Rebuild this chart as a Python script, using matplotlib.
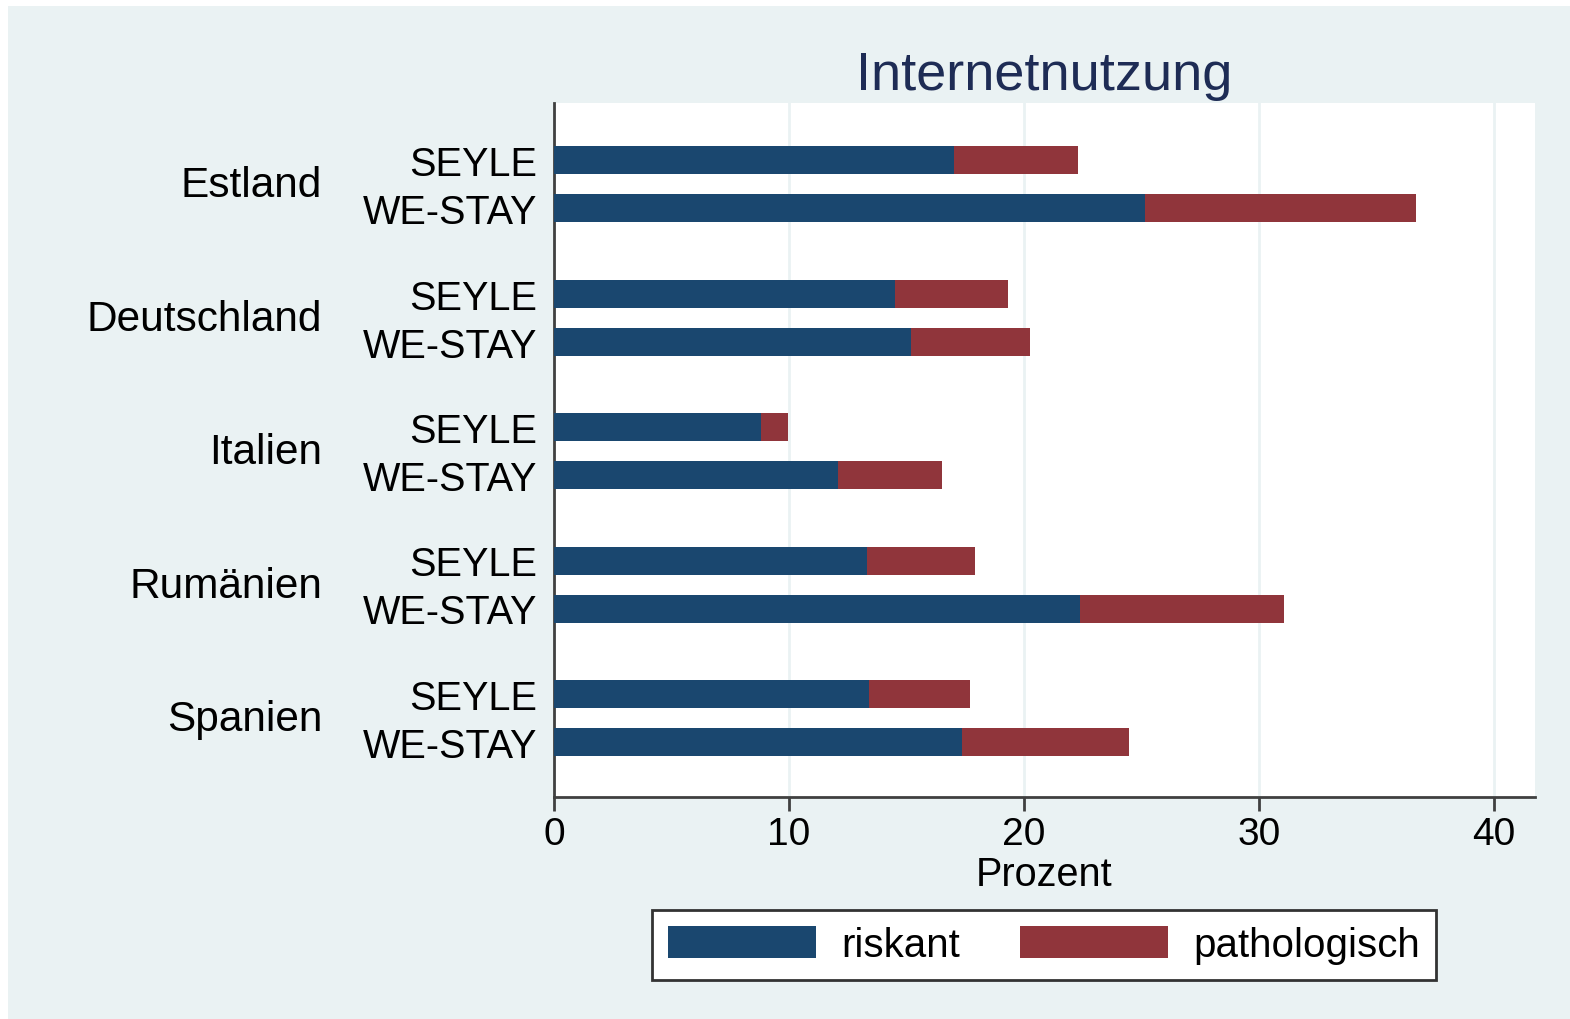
import matplotlib.pyplot as plt
import numpy as np
from matplotlib.patches import Rectangle

# values (Prozent)
countries = ["Estland", "Deutschland", "Italien", "Rumänien", "Spanien"]
studies = ["SEYLE", "WE-STAY"]
riskant_seyle = [17.0, 14.5, 8.8, 13.3, 13.4]
patho_seyle = [5.3, 4.8, 1.15, 4.6, 4.3]
riskant_westay = [25.15, 15.2, 12.1, 22.4, 17.35]
patho_westay = [11.55, 5.05, 4.4, 8.65, 7.1]
xticks = [0, 10, 20, 30, 40]

NAVY = "#1a476f"
MAROON = "#90353b"
BG = "#eaf2f3"

plt.rcParams["font.family"] = ["Liberation Sans", "DejaVu Sans"]

fig = plt.figure(figsize=(15.7, 10.2), dpi=100, facecolor="white")
fig.patches.append(Rectangle((8 / 1570, 0.0), 1 - 8 / 1570, 1 - 7 / 1020,
                             transform=fig.transFigure, facecolor=BG,
                             edgecolor="none", zorder=-10))

ax = fig.add_axes([554 / 1570, 1 - 798 / 1020, (1535 - 554) / 1570, (798 - 104) / 1020])
ax.set_facecolor("white")

g = np.arange(len(countries))
y_s = g
y_w = g + 48 / 133.5
h = 28 / 133.5

ax.barh(y_s, riskant_seyle, height=h, color=NAVY, label="riskant", zorder=3)
ax.barh(y_s, patho_seyle, left=riskant_seyle, height=h, color=MAROON,
        label="pathologisch", zorder=3)
ax.barh(y_w, riskant_westay, height=h, color=NAVY, zorder=3)
ax.barh(y_w, patho_westay, left=riskant_westay, height=h, color=MAROON, zorder=3)

ax.set_xlim(0, (1535 - 554) / 23.5)
ax.set_ylim((798 - 161) / 133.5, (104 - 161) / 133.5)
ax.set_xticks(xticks)
ax.grid(axis="x", color=BG, linewidth=2, zorder=0)

ax.set_yticks(np.concatenate([y_s, y_w]))
ax.set_yticklabels(["SEYLE"] * len(countries) + ["WE-STAY"] * len(countries))
ax.tick_params(axis="y", length=0, pad=12, labelsize=28.5)
ax.tick_params(axis="x", length=10, width=2, color="#404040", labelsize=28, pad=4)

for s in ["top", "right"]:
    ax.spines[s].set_visible(False)
for s in ["left", "bottom"]:
    ax.spines[s].set_color("#404040")
    ax.spines[s].set_linewidth(2)

for i, c in enumerate(countries):
    ax.text(-232 / 981, (y_s[i] + y_w[i]) / 2 + 0.01, c, transform=ax.get_yaxis_transform(),
            ha="right", va="center", fontsize=30.5)

ax.set_xlabel("Prozent", fontsize=28.5, labelpad=2)
ax.set_title("Internetnutzung", fontsize=39, color="#1e2c55", pad=10)

leg = fig.legend(loc="center", bbox_to_anchor=(1044 / 1570, 1 - 946 / 1020), ncol=2,
                 fontsize=29, frameon=True, fancybox=False, edgecolor="#333333",
                 framealpha=1, facecolor="white",
                 handlelength=3.67, handleheight=0.84, columnspacing=1.5,
                 borderpad=0.4, handletextpad=0.62)
leg.get_frame().set_linewidth(2)

fig.savefig("out.png", dpi=100, facecolor="white")
